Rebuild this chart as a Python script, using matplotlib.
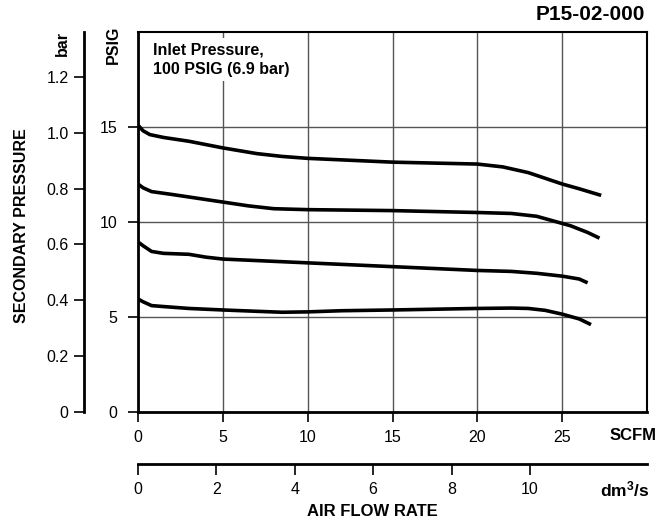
import numpy as np
import matplotlib
matplotlib.use("Agg")
import matplotlib.pyplot as plt

plt.rcParams['font.family'] = ['Liberation Sans', 'DejaVu Sans']
plt.rcParams['mathtext.fontset'] = 'custom'
plt.rcParams['mathtext.bf'] = 'Liberation Sans:bold'
plt.rcParams['mathtext.rm'] = 'Liberation Sans'

# flow (SCFM) vs secondary pressure (PSIG)
flow_15 = [0, 0.3, 0.7, 1.5, 3, 5, 7, 8.5, 10, 12.5, 15, 17.5, 20, 21.5, 23, 24, 25, 26, 27.3]
psig_15 = [15.1, 14.8, 14.6, 14.45, 14.25, 13.9, 13.6, 13.45, 13.35, 13.25, 13.15, 13.1, 13.05, 12.9, 12.6, 12.3, 12.0, 11.75, 11.4]

flow_12 = [0, 0.3, 0.8, 2, 3.5, 5, 6.5, 8, 10, 15, 20, 22, 23.5, 24.5, 25.5, 26.5, 27.2]
psig_12 = [12.0, 11.8, 11.6, 11.45, 11.25, 11.05, 10.85, 10.7, 10.65, 10.6, 10.5, 10.45, 10.3, 10.05, 9.8, 9.45, 9.15]

flow_9 = [0, 0.3, 0.8, 1.5, 3, 4, 5, 7.5, 10, 12.5, 15, 17.5, 20, 22, 23.5, 25, 26, 26.5]
psig_9 = [8.95, 8.75, 8.45, 8.35, 8.3, 8.15, 8.05, 7.95, 7.85, 7.75, 7.65, 7.55, 7.45, 7.4, 7.3, 7.15, 7.0, 6.8]

flow_6 = [0, 0.3, 0.8, 1.5, 3, 5, 7, 8.5, 10, 12, 15, 20, 22, 23, 24, 25, 26, 26.7]
psig_6 = [5.95, 5.8, 5.6, 5.55, 5.45, 5.37, 5.3, 5.25, 5.27, 5.33, 5.37, 5.45, 5.47, 5.45, 5.35, 5.15, 4.9, 4.6]

scfm_ticks = [0, 5, 10, 15, 20, 25]
psig_ticks = [0, 5, 10, 15]
bar_ticks = [0, 0.2, 0.4, 0.6, 0.8, 1.0, 1.2]
dm3_ticks = [0, 2, 4, 6, 8, 10]

PSI_PER_BAR = 14.7
SCFM_PER_DM3S = 2.31

W, H = 667, 522
fig = plt.figure(figsize=(W / 100, H / 100), dpi=100)
ax = fig.add_axes([138 / W, 1 - 412 / H, 509 / W, 380 / H])

for fx, py in [(flow_15, psig_15), (flow_12, psig_12), (flow_9, psig_9), (flow_6, psig_6)]:
    ax.plot(fx, py, color='black', lw=2.6, solid_capstyle='butt', solid_joinstyle='round', zorder=3)

ax.set_xlim(0, 30)
ax.set_ylim(0, 20)
ax.set_xticks(scfm_ticks)
ax.set_yticks(psig_ticks)
ax.set_yticklabels([str(t) for t in psig_ticks])
ax.grid(True, color='#555555', lw=1)
ax.set_axisbelow(True)

ax.spines['left'].set_linewidth(2)
ax.spines['bottom'].set_linewidth(2)
ax.spines['top'].set_linewidth(1.5)
ax.spines['right'].set_linewidth(1.5)
ax.tick_params(axis='x', direction='out', length=7, width=1.2, pad=6, labelsize=11.5)
ax.tick_params(axis='y', direction='out', length=7, width=1.2, pad=8, labelsize=11.5)

# bar axis on the far left
secy = ax.secondary_yaxis(-54 / 509, functions=(lambda p: p / PSI_PER_BAR, lambda b: b * PSI_PER_BAR))
secy.set_yticks(bar_ticks)
secy.set_yticklabels(['0', '0.2', '0.4', '0.6', '0.8', '1.0', '1.2'])
secy.spines['left'].set_linewidth(2)
secy.tick_params(direction='out', length=7, width=1.2, pad=4, labelsize=11.5)

# dm3/s axis below
secx = ax.secondary_xaxis(-52 / 380, functions=(lambda s: s / SCFM_PER_DM3S, lambda d: d * SCFM_PER_DM3S))
secx.set_xticks(dm3_ticks)
secx.spines['bottom'].set_linewidth(2)
secx.tick_params(direction='out', length=8, width=1.2, pad=5, labelsize=11.5)

ax.text(0.88, 19.45, 'Inlet Pressure,\n100 PSIG (6.9 bar)', fontsize=11.5, fontweight='bold',
        va='top', ha='left', linespacing=1.4,
        bbox=dict(facecolor='white', edgecolor='none', pad=3), zorder=4)

fig.text(645 / W, 1 - 14 / H, 'P15-02-000', ha='right', va='center', fontsize=15, fontweight='bold')
fig.text(62 / W, 1 - 43 / H, 'bar', rotation=90, ha='center', va='center', fontsize=11.5, fontweight='bold')
fig.text(113 / W, 1 - 45 / H, 'PSIG', rotation=90, ha='center', va='center', fontsize=11.5, fontweight='bold')
fig.text(22 / W, 1 - 226 / H, 'SECONDARY PRESSURE', rotation=90, ha='center', va='center',
         fontsize=11.5, fontweight='bold')
fig.text(633 / W, 1 - 436 / H, 'SCFM', ha='center', va='center', fontsize=12, fontweight='bold')
fig.text(625 / W, 1 - 489 / H, r'$\mathbf{dm^3/s}$', ha='center', va='center', fontsize=12.5)
fig.text(372 / W, 1 - 512 / H, 'AIR FLOW RATE', ha='center', va='center', fontsize=12, fontweight='bold')

fig.savefig('out.png', dpi=100)
